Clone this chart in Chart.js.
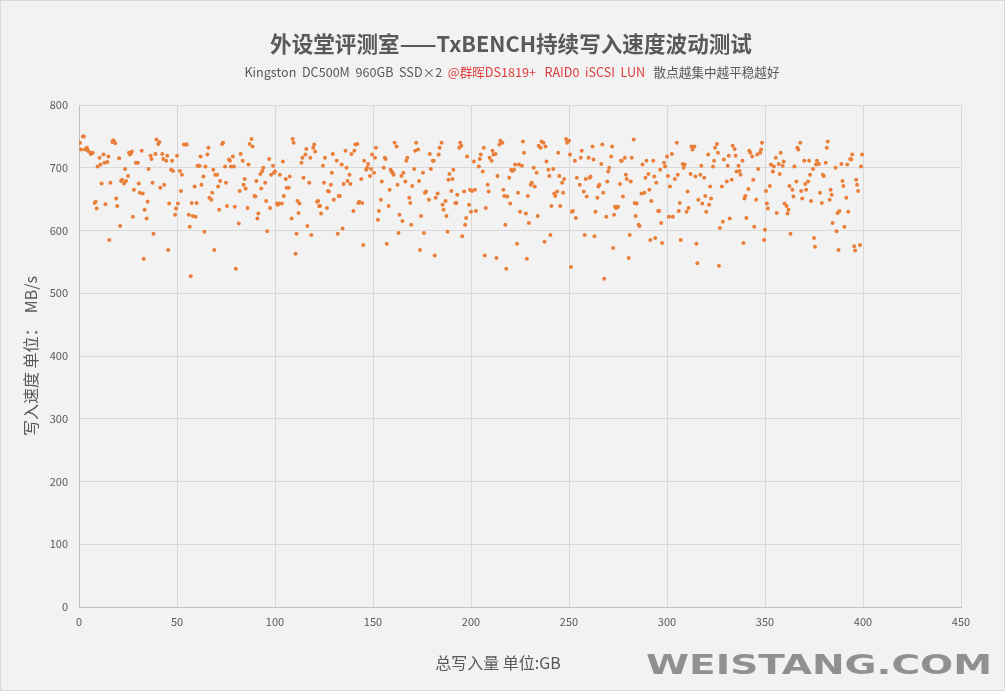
<!DOCTYPE html>
<html>
<head>
<meta charset="utf-8">
<script src="https://cdn.jsdelivr.net/npm/chart.js@4/dist/chart.umd.min.js"></script>
<style>
html,body{margin:0;padding:0;background:#F2F2F2;overflow:hidden;}
canvas{display:block;}
</style>
</head>
<body>
<canvas id="c" width="1005" height="691"></canvas>
<script>
// ---- data (total written GB, write speed MB/s), in strips ----
const gbA = [0.5,1,2,2.5,3,4,4.5,5,6,6.5,7,8,8.5,9,9.5,10.5,11,11.5,12.5,13,13.5,14.5,15,15.5,16,17,17.5,18,18.5,19,19.5,20.5,21,21.5,22,23,23.5,24,25,25.5,26,26.5,27,27.5,28,29,30,30.5,31,32,32.5,33,33.5,34.5,35,35.5,36.5,37,37.5,38,39,39.5,40.5,41,41.5,42.5,43,43.5,44.5,45,45.5,46,47,47.5,48,49,49.5,50,50.5,51.5,52,52.5,53.5,54.5,55,56,56.5,57,57.5,58,59,59.5,60,60.5,61,61.5,62,62.5,63.5,64,64.5,65.5,66,66.5,67.5,68,68.5,69,69.5,70.5,71,71.5,72];
const speedA = [740,729,750,750,729,732,728,726,722,723,724,644,646,635,702,716,705,675,721,708,642,709,718,585,676,741,744,741,739,651,639,715,607,679,681,675,698,679,687,724,721,723,726,622,665,708,708,675,660,727,659,555,633,619,646,698,719,714,676,595,722,745,738,741,668,722,714,673,711,719,569,643,697,711,695,625,635,719,643,695,663,689,737,737,737,625,606,527,644,623,670,622,644,703,703,703,718,673,686,598,702,721,732,652,649,660,697,569,689,689,670,633,679];

const gbB = [73,73.5,74.5,75,75.5,76.5,77,77.5,78.5,79,79.5,80,81.5,82,82.5,83.5,84,84.5,85,86,86.5,87,88,88.5,89.5,90,90.5,91,91.5,92.5,93,93.5,94,95,95.5,96,97,97.5,98,99,99.5,100,101,101.5,102,102.5,103.5,104,104.5,105.5,106,107,107.5,108.5,109,109.5,110.5,111,111.5,112,112.5,113.5,114,114.5,115.5,116,116.5,117.5,118,118.5,119.5,120,120.5,121.5,122,122.5,123,123.5,124.5,125,125.5,126.5,127,127.5,128.5,129,129.5,130,131.5,132,132.5,133,134,134.5,135,136,136.5,137,138,138.5,139,140,140.5,141,142,142.5,143,144,144.5,145];
const speedB = [738,740,702,676,639,713,711,702,718,702,638,539,611,663,722,711,673,682,667,636,705,738,746,734,655,654,679,619,627,690,667,695,700,676,647,599,714,636,689,703,692,694,643,641,643,689,643,710,655,682,668,668,686,619,746,740,563,595,647,628,643,708,716,684,721,730,607,676,716,593,732,737,726,646,647,639,639,627,703,676,716,636,663,662,673,692,722,649,711,595,655,655,705,603,674,727,700,679,689,674,722,631,727,737,738,644,646,682,644,577];

const gbC = [145.5,146.5,147,147.5,148.5,149,149.5,150.5,151,151.5,152.5,153,154,154.5,155.5,156,156.5,157,158,158.5,159,159.5,160,160.5,161,162,162.5,163,163.5,164.5,165,165.5,166.5,167,167.5,168.5,169,169.5,170,171,171.5,172,173,173.5,174,174.5,175.5,176,176.5,177,178.5,179,179.5,180.5,181,181.5,182,183,183.5,184,185,185.5,186,187,187.5,188,188.5,189,190,190.5,191,192,192.5,193,194,194.5,195,195.5,196.5,197,197.5,198,199,199.5,200,200.5,201.5,202,202.5,204,204.5,205,206,206.5,207,207.5,208.5,209,209.5,210.5,211,211.5,212.5,213,213.5,214.5,215,216,216.5,217,217.5];
const speedC = [711,697,700,706,687,698,721,692,716,732,617,631,649,678,700,716,714,579,639,665,697,694,692,689,740,734,673,596,625,687,615,692,678,711,716,652,644,609,671,698,727,740,729,679,569,623,692,596,660,662,649,722,698,711,711,560,652,659,721,732,740,641,633,647,623,598,681,690,663,682,697,644,644,657,732,740,735,591,662,609,620,718,641,665,630,663,710,665,631,702,714,721,694,732,560,636,673,662,716,711,727,721,722,556,687,737,743,740,665,655,609];

const gbD = [218,218.5,219.5,220,220.5,221,222,222.5,223.5,224,224.5,225,226,226.5,227,228,228.5,229,229.5,230.5,231,232,232.5,233.5,234,234.5,235.5,236,237,237.5,238,238.5,239.5,240,240.5,241,242,242.5,243,244,244.5,245,245.5,246.5,247,247.5,248.5,249,250,250.5,251,251.5,252,253,253.5,254,255.5,256,256.5,257.5,258,258.5,259,260,260.5,261,262,262.5,263,263.5,264.5,265,265.5,266.5,267,267.5,268,269,269.5,270,270.5,271.5,272,272.5,273,273.5,274,274.5,275,276,276.5,277,277.5,278.5,279,279.5,280.5,281,281.5,282,283,283.5,284,284.5,285.5,286,287,287.5,288.5,289,289.5];
const speedD = [539,654,684,643,697,695,697,705,579,660,705,630,703,742,724,627,555,655,612,673,676,700,670,692,623,735,732,742,740,582,734,710,697,687,593,639,698,659,655,662,724,687,639,676,660,682,746,740,743,721,542,630,631,711,620,684,673,716,727,662,593,682,654,716,684,686,734,713,591,630,652,670,673,706,737,660,523,622,678,694,700,718,734,572,625,638,636,638,638,674,711,711,654,716,689,682,556,593,678,716,745,644,623,643,609,607,659,705,660,684,711];

const gbE = [290.5,291,291.5,292,293,293.5,294,294.5,295.5,296,296.5,297,297.5,298.5,299,300,300.5,301,301.5,302.5,303,304,305,305.5,306,306.5,307,308,308.5,309,310,310.5,311,312,312.5,313,314,314.5,315,315.5,316,317,317.5,318,319,319.5,320,321,321.5,322,322.5,323.5,324,324.5,325.5,326,326.5,327,328,328.5,329,330.5,331,331.5,332,333,333.5,334.5,335,335.5,336.5,337,337.5,338.5,339,339.5,340,340.5,341.5,342,342.5,343.5,344,344.5,345.5,346,346.5,347.5,348,348.5,349.5,350,350.5,351,351.5,352.5,353,354,354.5,355.5,356,357,357.5,358,359,359.5,360,361,361.5,362,362.5];
const speedE = [690,665,585,647,711,686,588,676,631,631,697,612,580,708,702,718,687,622,670,722,622,682,740,689,631,644,585,706,700,705,630,662,636,690,734,729,734,686,579,548,649,689,703,643,684,655,630,721,641,670,651,702,711,732,738,724,544,604,670,614,713,678,703,719,619,681,735,730,719,694,703,695,689,711,580,651,655,620,666,727,724,718,681,606,649,721,698,724,729,740,585,601,663,643,635,671,705,694,702,716,628,706,690,724,703,710,643,639,627,633,671];

const gbF = [363,364,364.5,365,366,366.5,367,368,368.5,369,370,370.5,371,372,372.5,373,373.5,374.5,375,375.5,376,376.5,377,377.5,378,379,379.5,380,381,381.5,382,383,383.5,384,384.5,386,386.5,387,387.5,388,389,389.5,390,390.5,391.5,392,392.5,393.5,394,394.5,395.5,396,396.5,397,397.5,398.5,399,399.5];
const speedF = [595,665,654,702,678,732,729,740,663,651,711,674,665,678,711,689,647,698,588,574,705,711,706,706,660,644,689,687,708,732,742,649,665,657,612,700,599,628,569,631,706,679,671,606,652,705,630,714,713,721,575,568,681,673,663,577,702,721];

const xTickValues = [0,50,100,150,200,250,300,350,400,450];
const yTickValues = [0,100,200,300,400,500,600,700,800];

const titleText = '外设堂评测室——TxBENCH持续写入速度波动测试';
const subtitleParts = [
  ['Kingston  DC500M  960GB  SSD×2  ', '#595959'],
  ['@群晖DS1819+   RAID0  iSCSI  LUN', '#E23B3B'],
  ['   散点越集中越平稳越好', '#595959']
];
const xAxisTitle = '总写入量 单位:GB';
const yAxisTitle = '写入速度 单位：  MB/s';
const watermark = 'WEISTANG.COM';

// ---- build points ----
const gbAll = [].concat(gbA, gbB, gbC, gbD, gbE, gbF);
const speedAll = [].concat(speedA, speedB, speedC, speedD, speedE, speedF);
const points = gbAll.map((x, i) => ({x: x, y: speedAll[i]}));

const CJK = '"Noto Sans CJK SC", "Noto Sans", sans-serif';

const decor = {
  id: 'decor',
  beforeDraw(chart) {
    const c = chart.ctx;
    c.save();
    c.fillStyle = '#F2F2F2';
    c.fillRect(0, 0, chart.width, chart.height);
    c.strokeStyle = '#D9D9D9';
    c.lineWidth = 1;
    c.strokeRect(0.5, 0.5, chart.width - 1, chart.height - 1);
    c.restore();
  },
  afterDraw(chart) {
    const c = chart.ctx;
    c.save();
    // title
    c.fillStyle = '#595959';
    c.font = 'bold 21.6px ' + CJK;
    c.textAlign = 'center';
    c.textBaseline = 'middle';
    c.fillText(titleText, 511, 44);
    // subtitle (multi-colour)
    c.font = '12.6px ' + CJK;
    c.textAlign = 'left';
    let total = 0;
    subtitleParts.forEach(p => total += c.measureText(p[0]).width);
    let sx = 512 - total / 2;
    subtitleParts.forEach(p => {
      c.fillStyle = p[1];
      c.fillText(p[0], sx, 72);
      sx += c.measureText(p[0]).width;
    });
    // x axis title
    c.fillStyle = '#595959';
    c.font = '16px ' + CJK;
    c.textAlign = 'center';
    c.fillText(xAxisTitle, 498, 663);
    // watermark
    c.font = 'bold 26px "DejaVu Sans", sans-serif';
    c.textAlign = 'left';
    const w = c.measureText(watermark).width;
    c.translate(646, 667);
    c.scale(346 / w, 1);
    c.fillStyle = '#909090';
    c.fillText(watermark, 0, 0);
    c.restore();
  }
};

new Chart(document.getElementById('c'), {
  type: 'scatter',
  data: {
    datasets: [{
      label: '写入速度',
      data: points,
      pointRadius: 2,
      pointHoverRadius: 2,
      pointBorderWidth: 0,
      backgroundColor: '#EA7F3A',
      borderColor: '#EA7F3A'
    }]
  },
  options: {
    responsive: false,
    animation: false,
    events: [],
    layout: { padding: { top: 105, right: 44, bottom: 0, left: 0 } },
    plugins: {
      legend: { display: false },
      tooltip: { enabled: false },
      title: { display: false }
    },
    scales: {
      x: {
        type: 'linear',
        min: 0, max: 450,
        afterBuildTicks: s => { s.ticks = xTickValues.map(v => ({value: v})); },
        afterFit: s => { s.height = 84; },
        grid: { color: '#D9D9D9', drawTicks: false, lineWidth: 1 },
        border: { color: '#BFBFBF', width: 1 },
        ticks: { color: '#595959', font: { size: 11, family: CJK }, padding: 8, maxRotation: 0 }
      },
      y: {
        min: 0, max: 800,
        afterBuildTicks: s => { s.ticks = yTickValues.map(v => ({value: v})); },
        afterFit: s => { s.width = 79; },
        grid: { color: '#D9D9D9', drawTicks: false, lineWidth: 1 },
        border: { color: '#BFBFBF', width: 1 },
        ticks: { color: '#595959', font: { size: 11, family: CJK }, padding: 11 },
        title: {
          display: true,
          text: yAxisTitle,
          color: '#595959',
          font: { size: 16, family: CJK },
          padding: { top: 21, bottom: 0 }
        }
      }
    }
  },
  plugins: [decor]
});
</script>
</body>
</html>
